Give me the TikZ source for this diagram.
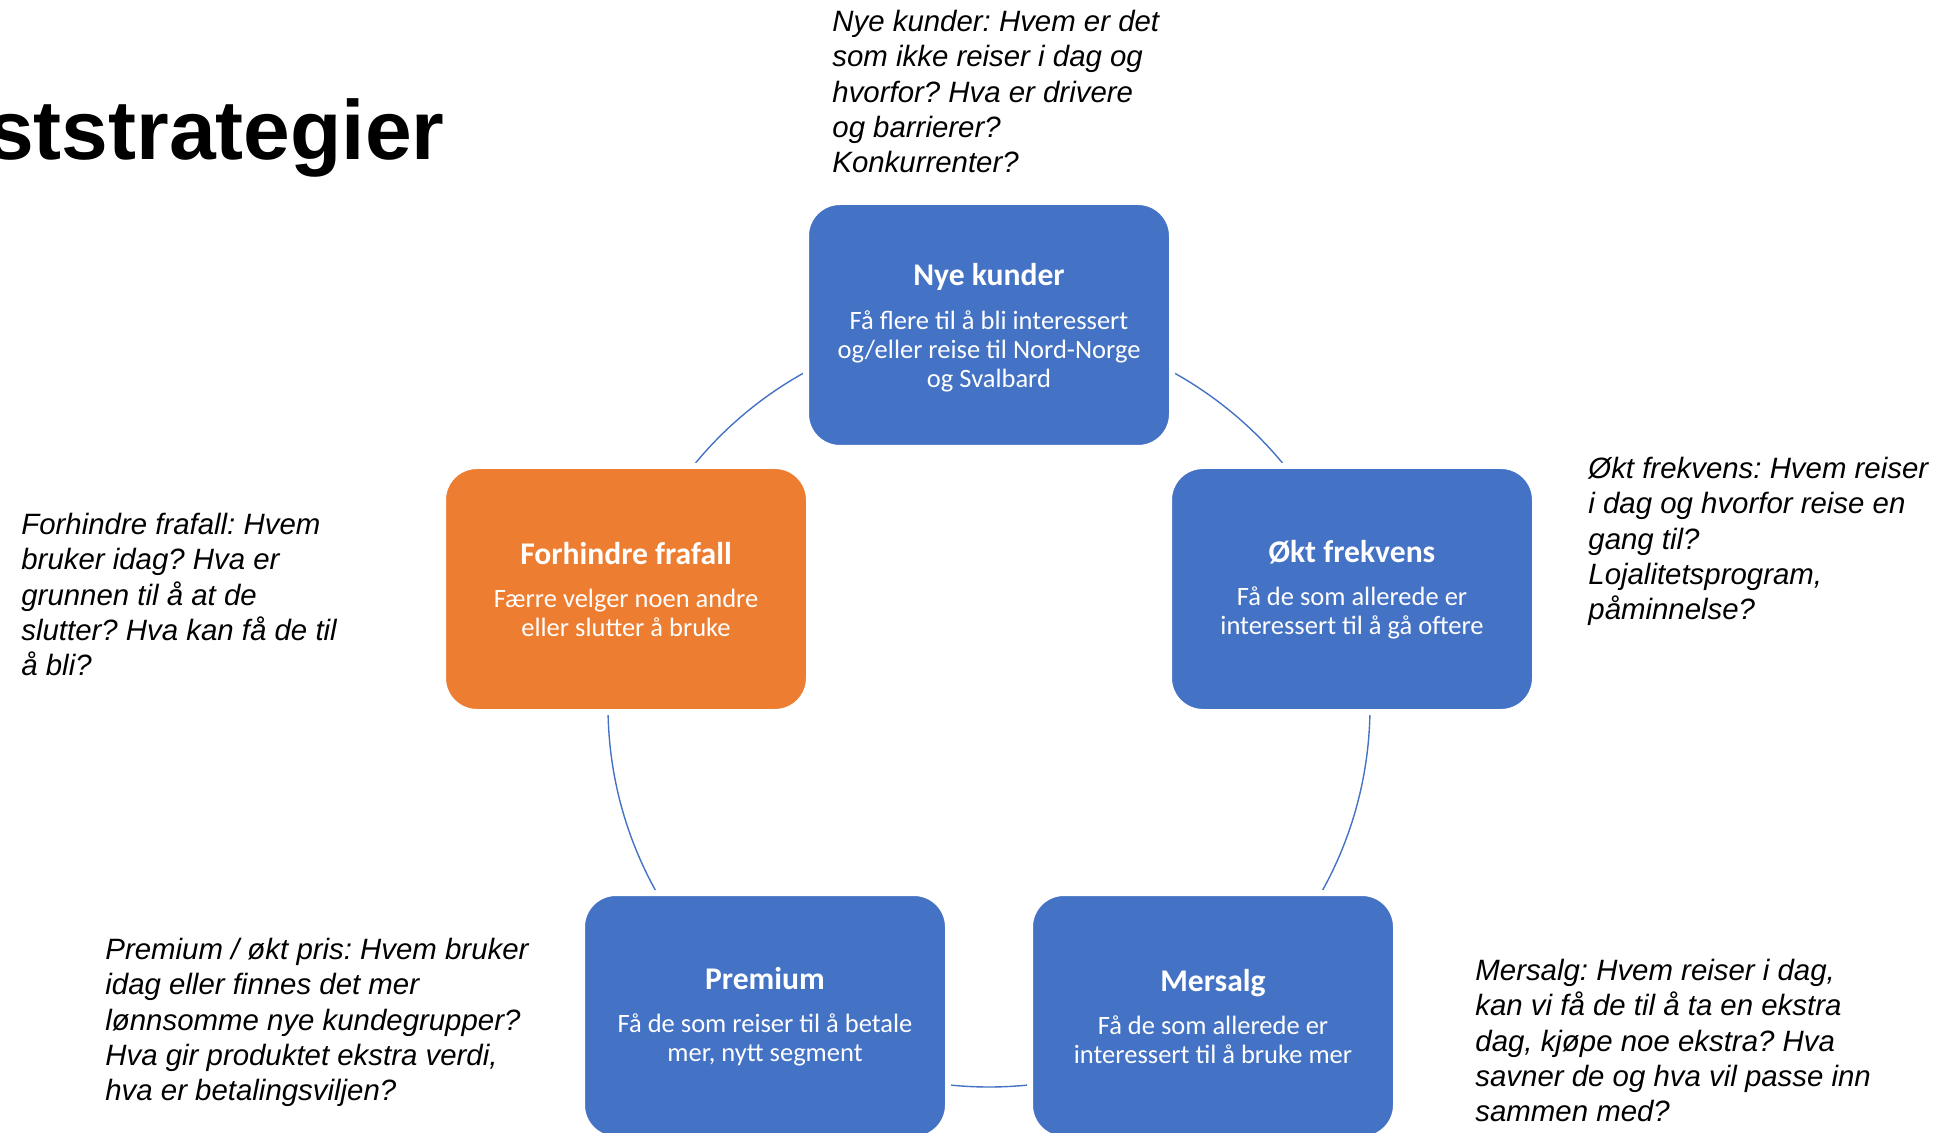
\documentclass[tikz,border=0pt]{standalone}
\usepackage{fontspec}
\setmainfont{Liberation Sans}
\newfontfamily\carlito{Carlito}
\definecolor{boxblue}{HTML}{4472C4}
\definecolor{boxorange}{HTML}{ED7D31}
\newcommand\bxtitle{\fontsize{15.8}{15.8}\selectfont\bfseries}
\frenchspacing
\begin{document}
\begin{tikzpicture}[x=0.5pt,y=-0.5pt,
  box/.style={rounded corners=17pt, draw=white, line width=3pt,
    minimum width=183pt, minimum height=123pt, inner sep=0pt},
  boxtext/.style={text=white, align=center, inner sep=0pt, yshift=-0.3pt,
    font=\carlito\fontsize{13.25}{14.7}\selectfont\frenchspacing},
  note/.style={anchor=north west, inner sep=0pt, align=left,
    font=\fontsize{14.7}{17.6}\selectfont\itshape\frenchspacing},
  ring/.style={draw=boxblue, line width=0.7pt}
]
\useasboundingbox (0,0) rectangle (1944,1133);
\node[anchor=base east, inner sep=0pt, font=\fontsize{42}{42}\selectfont\bfseries] (title) at (445,160) {ststrategier};
\coordinate (c) at (989,706);
\draw[ring] (c) circle [radius=190.5pt];
\node[box, fill=boxblue] (nye) at (989,325) {};
\node[box, fill=boxblue] (okt) at (1352,589) {};
\node[box, fill=boxblue] (mer) at (1213,1016) {};
\node[box, fill=boxblue] (prem) at (765,1016) {};
\node[box, fill=boxorange] (forh) at (626,589) {};
\node[boxtext, yshift=-1.2pt] (nyet) at (nye.center) {{\bxtitle Nye kunder}\\[6.9pt]Få flere til å bli interessert\\og/eller reise til Nord-Norge\\og Svalbard};
\node[boxtext] (oktt) at (okt.center) {{\bxtitle Økt frekvens}\\[6.9pt]Få de som allerede er\\interessert til å gå oftere};
\node[boxtext] (mert) at (mer.center) {{\bxtitle Mersalg}\\[6.9pt]Få de som allerede er\\interessert til å bruke mer};
\node[boxtext] (premt) at (prem.center) {{\bxtitle Premium}\\[6.9pt]Få de som reiser til å betale\\mer, nytt segment};
\node[boxtext] (forht) at (forh.center) {{\bxtitle Forhindre frafall}\\[6.9pt]Færre velger noen andre\\eller slutter å bruke};
\node[note] (n1) at (832,10) {Nye kunder: Hvem er det\\som ikke reiser i dag og\\hvorfor? Hva er drivere\\og barrierer?\\Konkurrenter?};
\node[note] (n2) at (1588,457) {Økt frekvens: Hvem reiser\\i dag og hvorfor reise en\\gang til?\\Lojalitetsprogram,\\påminnelse?};
\node[note] (n3) at (21,513) {Forhindre frafall: Hvem\\bruker idag? Hva er\\grunnen til å at de\\slutter? Hva kan få de til\\å bli?};
\node[note] (n4) at (105,938) {Premium / økt pris: Hvem bruker\\idag eller finnes det mer\\lønnsomme nye kundegrupper?\\Hva gir produktet ekstra verdi,\\hva er betalingsviljen?};
\node[note] (n5) at (1475,959) {Mersalg: Hvem reiser i dag,\\kan vi få de til å ta en ekstra\\dag, kjøpe noe ekstra? Hva\\savner de og hva vil passe inn\\sammen med?};
\end{tikzpicture}
\end{document}
